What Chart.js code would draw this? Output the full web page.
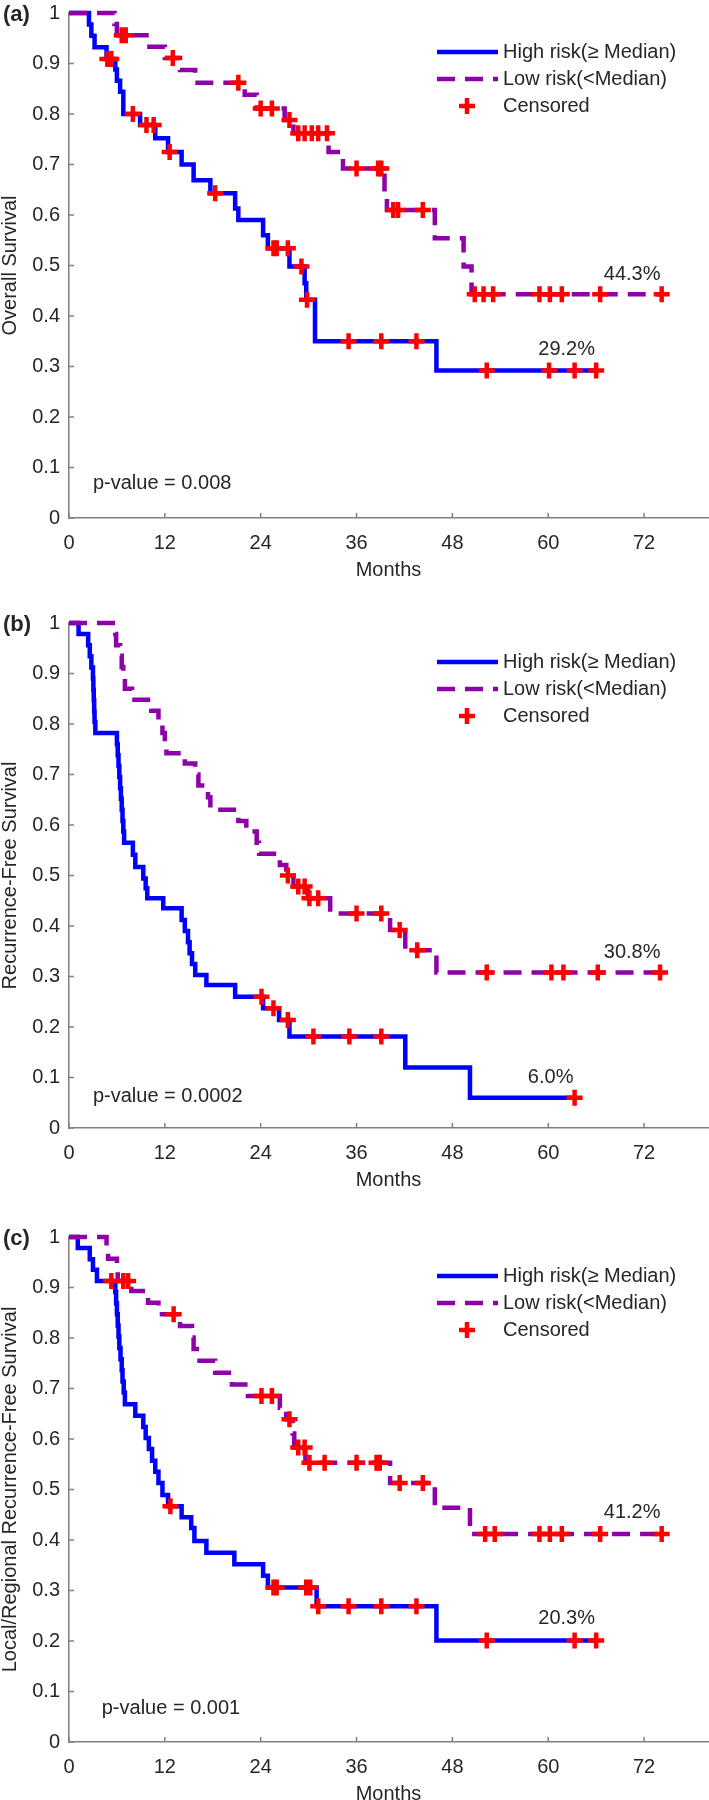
<!DOCTYPE html>
<html>
<head>
<meta charset="utf-8">
<title>Kaplan-Meier curves</title>
<script src="https://cdn.jsdelivr.net/npm/chart.js@4.4.1/dist/chart.umd.min.js"></script>
<style>
  html, body { margin: 0; padding: 0; background: #fff; overflow: hidden; }
  body { width: 709px; height: 1800px; position: relative; }
  .panel { position: absolute; left: 0; width: 709px; height: 580px; }
</style>
</head>
<body>
<div class="panel" style="top:0px"><canvas id="chartA"></canvas></div>
<div class="panel" style="top:610px"><canvas id="chartB"></canvas></div>
<div class="panel" style="top:1224px"><canvas id="chartC"></canvas></div>
<script>
'use strict'

// axes
const monthTicks = [0, 12, 24, 36, 48, 60, 72];
const survTicks = [0, 0.1, 0.2, 0.3, 0.4, 0.5, 0.6, 0.7, 0.8, 0.9, 1];
const seriesNames = ['High risk(\u2265 Median)', 'Low risk(<Median)', 'Censored'];

// (a) Overall Survival
const aHighTime = [0, 2.5, 2.8, 3.2, 4.7, 5.8, 6.0, 6.4, 6.8, 8.9, 10.8, 12.4, 14.1, 15.6, 17.7, 20.8, 21.2, 24.3, 24.9, 27.6, 29.5, 29.7, 30.8, 46.0, 66.0];
const aHighSurv = [1, 0.977, 0.955, 0.932, 0.909, 0.888, 0.866, 0.844, 0.800, 0.778, 0.752, 0.725, 0.700, 0.669, 0.643, 0.613, 0.590, 0.560, 0.534, 0.498, 0.465, 0.432, 0.350, 0.292, 0.292];
const aHighCens = [4.8, 5.3, 8.0, 9.7, 10.6, 12.6, 18.3, 25.6, 26.0, 27.4, 29.1, 29.8, 35.0, 39.1, 43.5, 52.3, 60.1, 63.3, 66.0];
const aLowTime = [0, 5.7, 6.0, 9.7, 12.0, 13.9, 15.8, 22.0, 23.5, 27.0, 28.1, 32.5, 34.3, 39.5, 39.8, 45.8, 49.4, 50.4, 74.2];
const aLowSurv = [1, 0.978, 0.956, 0.933, 0.911, 0.887, 0.862, 0.838, 0.811, 0.788, 0.762, 0.725, 0.692, 0.651, 0.610, 0.554, 0.498, 0.443, 0.443];
const aLowCens = [6.6, 7.1, 13.0, 21.2, 24.0, 25.4, 27.6, 28.7, 29.5, 30.4, 31.2, 32.3, 36.0, 38.7, 39.1, 40.6, 41.2, 44.3, 50.8, 51.9, 53.1, 58.9, 60.2, 61.7, 66.5, 74.2];

// (b) Recurrence-Free Survival
const bHighTime = [0, 1.2, 2.4, 2.6, 2.8, 3.0, 3.05, 3.1, 3.15, 3.2, 3.3, 6.0, 6.1, 6.2, 6.3, 6.4, 6.5, 6.6, 6.7, 6.8, 6.9, 8.0, 8.3, 9.3, 9.6, 9.8, 11.8, 14.1, 14.5, 14.9, 15.1, 15.4, 15.8, 17.2, 20.8, 24.3, 26.3, 27.6, 42.1, 50.2, 63.3];
const bHighSurv = [1, 0.978, 0.956, 0.934, 0.912, 0.890, 0.868, 0.847, 0.825, 0.804, 0.782, 0.760, 0.738, 0.717, 0.695, 0.673, 0.652, 0.630, 0.608, 0.587, 0.565, 0.541, 0.517, 0.494, 0.475, 0.455, 0.435, 0.412, 0.390, 0.368, 0.346, 0.325, 0.303, 0.283, 0.260, 0.237, 0.214, 0.181, 0.120, 0.060, 0.060];
const bHighCens = [24.1, 25.6, 27.4, 30.6, 35.1, 39.1, 63.3];
const bLowTime = [0, 5.8, 5.9, 6.4, 6.6, 6.8, 7.0, 7.9, 10.3, 11.2, 11.7, 12.0, 12.2, 14.5, 15.8, 16.2, 17.4, 17.7, 21.2, 22.2, 23.5, 23.8, 26.4, 27.2, 28.1, 29.9, 32.7, 40.2, 42.1, 46.0, 74.0];
const bLowSurv = [1, 0.978, 0.956, 0.935, 0.913, 0.891, 0.870, 0.848, 0.826, 0.803, 0.782, 0.762, 0.742, 0.722, 0.700, 0.678, 0.655, 0.630, 0.608, 0.587, 0.565, 0.543, 0.521, 0.500, 0.478, 0.455, 0.425, 0.392, 0.352, 0.308, 0.308];
const bLowCens = [27.4, 28.7, 29.5, 30.1, 31.2, 36.0, 39.1, 41.4, 43.6, 52.3, 60.4, 61.9, 66.2, 74.0];

// (c) Local/Regional Recurrence-Free Survival
const cHighTime = [0, 1.1, 2.6, 3.0, 3.5, 5.8, 5.9, 6.0, 6.1, 6.2, 6.3, 6.45, 6.6, 6.7, 6.85, 7.0, 8.3, 9.3, 9.6, 10.0, 10.4, 10.8, 11.2, 11.7, 12.4, 14.1, 15.3, 15.7, 17.2, 20.7, 24.3, 24.9, 31.0, 46.0, 66.0];
const cHighSurv = [1, 0.978, 0.956, 0.935, 0.913, 0.891, 0.869, 0.847, 0.825, 0.803, 0.780, 0.758, 0.736, 0.714, 0.692, 0.669, 0.646, 0.624, 0.602, 0.580, 0.557, 0.535, 0.513, 0.489, 0.467, 0.445, 0.424, 0.398, 0.375, 0.352, 0.329, 0.306, 0.269, 0.201, 0.201];
const cHighCens = [5.3, 12.7, 25.6, 26.0, 29.7, 30.2, 31.2, 35.0, 39.1, 43.5, 52.3, 63.3, 66.0];
const cLowTime = [0, 4.7, 4.9, 6.0, 6.1, 7.8, 9.9, 11.2, 13.9, 15.4, 15.6, 16.0, 18.3, 20.4, 22.4, 26.4, 27.2, 28.0, 28.2, 29.6, 40.2, 45.8, 50.2, 74.2];
const cLowSurv = [1, 0.978, 0.957, 0.935, 0.913, 0.893, 0.870, 0.847, 0.824, 0.801, 0.778, 0.755, 0.731, 0.708, 0.685, 0.662, 0.639, 0.611, 0.583, 0.553, 0.513, 0.464, 0.412, 0.412];
const cLowCens = [6.8, 7.4, 13.1, 24.1, 25.4, 27.6, 28.7, 29.5, 30.1, 32.0, 36.0, 38.5, 38.9, 41.4, 44.3, 52.1, 53.3, 58.9, 60.2, 61.7, 66.5, 74.2];

const FONT = '"Liberation Sans", Arial, Helvetica, sans-serif';
const TEXT = '#262626';
const AXIS = '#808080';
const BLUE = '#0000ff';
const PURPLE = '#8e00a8';
const RED = '#ff0000';

Chart.defaults.font.family = FONT;
Chart.defaults.font.size = 20;
Chart.defaults.color = TEXT;

// survival value at time t (step function)
function survAt(times, surv, t) {
  let s = surv[0];
  for (let i = 0; i < times.length; i++) {
    if (times[i] <= t) s = surv[i];
  }
  return s;
}

// fixed plot box: no extra padding from tick labels
function noPad(s) {
  s.paddingTop = 0;
  s.paddingBottom = 0;
  s.paddingLeft = 0;
  s.paddingRight = 0;
}

// ticks inside the box, legend, text labels
const kmDecor = {
  id: 'kmDecor',
  beforeDatasetsDraw(chart) {
    const {ctx, chartArea, scales: {x, y}} = chart;
    ctx.save();
    ctx.strokeStyle = AXIS;
    ctx.lineWidth = 1.5;
    ctx.beginPath();
    monthTicks.forEach(v => {
      const px = x.getPixelForValue(v);
      ctx.moveTo(px, chartArea.bottom);
      ctx.lineTo(px, chartArea.bottom - 5);
    });
    survTicks.forEach(v => {
      const py = y.getPixelForValue(v);
      ctx.moveTo(chartArea.left, py);
      ctx.lineTo(chartArea.left + 5, py);
    });
    ctx.stroke();
    ctx.restore();
  },
  afterDraw(chart, args, opts) {
    const {ctx, scales: {x, y}} = chart;
    ctx.save();
    ctx.fillStyle = TEXT;
    ctx.textBaseline = 'middle';

    ctx.font = 'bold 22px ' + FONT;
    ctx.textAlign = 'left';
    ctx.fillText(opts.letter, 3, 15);

    ctx.font = '20px ' + FONT;
    opts.notes.forEach(n => {
      ctx.textAlign = n.align || 'center';
      ctx.fillText(n.text, x.getPixelForValue(n.x), y.getPixelForValue(n.y));
    });

    // legend
    const rows = [52, 79, 106];
    ctx.lineCap = 'butt';
    ctx.lineWidth = 4.5;
    ctx.strokeStyle = BLUE;
    ctx.beginPath();
    ctx.moveTo(437, rows[0]);
    ctx.lineTo(498, rows[0]);
    ctx.stroke();
    ctx.strokeStyle = PURPLE;
    ctx.setLineDash([18, 10]);
    ctx.beginPath();
    ctx.moveTo(437, rows[1]);
    ctx.lineTo(498, rows[1]);
    ctx.stroke();
    ctx.setLineDash([]);
    ctx.strokeStyle = RED;
    ctx.beginPath();
    ctx.moveTo(459, rows[2]);
    ctx.lineTo(475, rows[2]);
    ctx.moveTo(467, rows[2] - 8);
    ctx.lineTo(467, rows[2] + 8);
    ctx.stroke();
    ctx.textAlign = 'left';
    seriesNames.forEach((name, i) => ctx.fillText(name, 503, rows[i]));
    ctx.restore();
  }
};

function drawKM(id, yTitle, high, low, letter, notes) {
  const highPts = high.time.map((t, i) => ({x: t, y: high.surv[i]}));
  const lowPts = low.time.map((t, i) => ({x: t, y: low.surv[i]}));
  const censPts = high.cens.map(t => ({x: t, y: survAt(high.time, high.surv, t)}))
    .concat(low.cens.map(t => ({x: t, y: survAt(low.time, low.surv, t)})));

  new Chart(document.getElementById(id), {
    type: 'line',
    data: {
      datasets: [
        {
          label: seriesNames[2],
          data: censPts,
          showLine: false,
          pointStyle: 'cross',
          pointRadius: 8,
          pointBorderWidth: 4.5,
          pointBorderColor: RED,
          pointBackgroundColor: RED,
          clip: false,
          order: 0
        },
        {
          label: seriesNames[1],
          data: lowPts,
          stepped: true,
          borderColor: PURPLE,
          borderWidth: 4.5,
          borderDash: [18, 10],
          borderCapStyle: 'butt',
          pointRadius: 0,
          fill: false,
          clip: false,
          order: 1
        },
        {
          label: seriesNames[0],
          data: highPts,
          stepped: true,
          borderColor: BLUE,
          borderWidth: 4.5,
          pointRadius: 0,
          fill: false,
          clip: false,
          order: 2
        }
      ]
    },
    options: {
      responsive: true,
      maintainAspectRatio: false,
      animation: false,
      events: [],
      layout: { autoPadding: false, padding: { top: 13, right: 1, left: 0, bottom: 0 } },
      scales: {
        x: {
          type: 'linear',
          min: 0,
          max: 80,
          afterBuildTicks: s => { s.ticks = monthTicks.map(v => ({value: v})); },
          afterFit: s => { s.height = 62; noPad(s); },
          grid: { display: false, drawTicks: false },
          border: { display: true, color: AXIS, width: 1.5 },
          ticks: { padding: 13, maxRotation: 0, color: TEXT },
          title: { display: true, text: 'Months', color: TEXT, font: { size: 20, lineHeight: 1 }, padding: 0 }
        },
        y: {
          type: 'linear',
          min: 0,
          max: 1,
          afterBuildTicks: s => { s.ticks = survTicks.map(v => ({value: v})); },
          afterFit: s => { s.width = 69; noPad(s); },
          grid: { display: false, drawTicks: false },
          border: { display: true, color: AXIS, width: 1.5 },
          ticks: { padding: 9, color: TEXT, callback: v => String(v) },
          title: { display: true, text: yTitle, color: TEXT, font: { size: 20, lineHeight: 1 }, padding: 0 }
        }
      },
      plugins: {
        legend: { display: false },
        tooltip: { enabled: false },
        kmDecor: { letter: letter, notes: notes }
      }
    },
    plugins: [kmDecor]
  });
}

drawKM('chartA', 'Overall Survival',
  {time: aHighTime, surv: aHighSurv, cens: aHighCens},
  {time: aLowTime, surv: aLowSurv, cens: aLowCens},
  '(a)',
  [
    {text: '44.3%', x: 70.5, y: 0.483},
    {text: '29.2%', x: 62.3, y: 0.333},
    {text: 'p-value = 0.008', x: 3.0, y: 0.069, align: 'left'}
  ]);

drawKM('chartB', 'Recurrence-Free Survival',
  {time: bHighTime, surv: bHighSurv, cens: bHighCens},
  {time: bLowTime, surv: bLowSurv, cens: bLowCens},
  '(b)',
  [
    {text: '30.8%', x: 70.5, y: 0.347},
    {text: '6.0%', x: 60.3, y: 0.100},
    {text: 'p-value = 0.0002', x: 3.0, y: 0.062, align: 'left'}
  ]);

drawKM('chartC', 'Local/Regional Recurrence-Free Survival',
  {time: cHighTime, surv: cHighSurv, cens: cHighCens},
  {time: cLowTime, surv: cLowSurv, cens: cLowCens},
  '(c)',
  [
    {text: '41.2%', x: 70.5, y: 0.455},
    {text: '20.3%', x: 62.3, y: 0.245},
    {text: 'p-value = 0.001', x: 4.1, y: 0.066, align: 'left'}
  ]);
</script>
</body>
</html>
